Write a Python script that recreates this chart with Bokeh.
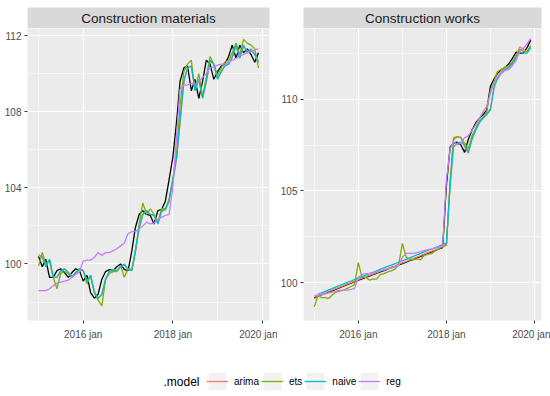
import numpy as np
import pandas as pd
from bokeh.plotting import figure
from bokeh.layouts import column, row
from bokeh.models import Range1d, FixedTicker, Label, Legend, LegendItem
from bokeh.embed import file_html
from bokeh.resources import INLINE

months = pd.date_range("2015-01-01", periods=60, freq="MS")
models = ["arima", "ets", "naive", "reg"]
model_colors = ["#F8766D", "#7CAE00", "#00BFC4", "#C77CFF"]
panel_titles = ["Construction materials", "Construction works"]

x_tick_dates = ["2016-01-01", "2018-01-01", "2020-01-01"]
x_tick_labels = ["2016 jan", "2018 jan", "2020 jan"]
x_minor_dates = ["2015-01-01", "2017-01-01", "2019-01-01"]

mat_y_ticks = [100, 104, 108, 112]
mat_y_minor = [98, 102, 106, 110]
works_y_ticks = [100, 105, 110]
works_y_minor = [102.5, 107.5, 112.5]

# ---------------- Construction materials ----------------
mat_actual = [100.4, 99.85, 100.25, 99.3, 99.3, 99.65, 99.75, 99.55, 99.3, 99.55, 99.75, 99.65,
              99.1, 99.4, 98.5, 98.2, 98.4, 99.2, 99.6, 99.7, 99.65, 99.85, 100.0, 99.7,
              99.65, 100.7, 101.9, 102.6, 102.8, 102.6, 102.55, 102.1, 102.8, 102.85, 103.3, 104.4,
              105.6, 107.5, 109.6, 110.3, 110.4, 109.1, 109.7, 108.7, 109.6, 110.7, 110.5, 109.7,
              110.1, 110.4, 110.5, 110.9, 111.5, 110.8, 111.5, 111.1, 111.3, 111.0, 110.6, 111.1]
mat_arima = [100.5, 100.35, 99.9, 100.2, 99.35, 99.3, 99.6, 99.75, 99.55, 99.35, 99.55, 99.75,
             99.65, 99.15, 99.35, 98.55, 98.2, 98.4, 99.15, 99.6, 99.7, 99.65, 99.85, 99.95,
             99.7, 99.7, 100.65, 101.85, 102.6, 102.8, 102.6, 102.55, 102.15, 102.75, 102.85, 103.3,
             104.35, 105.55, 107.45, 109.55, 110.3, 110.4, 109.15, 109.65, 108.75, 109.55, 110.65, 110.5,
             109.75, 110.1, 110.4, 110.5, 110.85, 111.45, 110.85, 111.45, 111.15, 111.25, 111.0, 110.65]
mat_ets = [99.9, 100.6, 100.0, 100.2, 99.3, 98.7, 99.5, 99.6, 99.5, 99.3, 99.5, 99.7,
           99.65, 98.95, 99.4, 98.5, 98.1, 97.8, 99.2, 99.5, 99.6, 99.6, 99.9, 99.3,
           99.75, 99.7, 100.6, 102.1, 103.2, 102.6, 102.9, 102.6, 102.2, 102.9, 102.9, 103.4,
           104.5, 105.8, 108.3, 110.1, 110.5, 110.7, 109.1, 110.0, 108.8, 109.8, 110.9, 110.5,
           109.9, 110.3, 110.6, 110.7, 111.1, 111.6, 111.0, 111.8, 111.6, 111.5, 111.3, 110.3]
mat_naive = [None, 100.4, 99.85, 100.25, 99.3, 99.3, 99.65, 99.75, 99.55, 99.3, 99.55, 99.75,
             99.65, 99.1, 99.4, 98.5, 98.2, 98.4, 99.2, 99.6, 99.7, 99.65, 99.85, 100.0,
             99.7, 99.65, 100.7, 101.9, 102.6, 102.8, 102.6, 102.55, 102.1, 102.8, 102.85, 103.3,
             104.4, 105.6, 107.5, 109.6, 110.3, 110.4, 109.1, 109.7, 108.7, 109.6, 110.7, 110.5,
             109.7, 110.1, 110.4, 110.5, 110.9, 111.5, 110.8, 111.5, 111.1, 111.3, 111.0, 110.6]
mat_reg = [98.6, 98.6, 98.6, 98.7, 98.85, 99.0, 99.05, 99.1, 99.15, 99.3, 99.45, 99.6,
           100.15, 100.2, 100.2, 100.35, 100.6, 100.45, 100.6, 100.6, 100.7, 100.8, 100.95, 101.1,
           101.6, 101.7, 101.7, 101.85, 102.0, 102.2, 102.1, 102.15, 102.35, 102.45, 102.55, 102.6,
           104.0, 106.8, 109.2, 109.4, 109.4, 109.5, 109.45, 109.6, 109.8, 110.0, 110.3, 110.35,
           110.45, 110.5, 110.5, 110.6, 110.7, 110.8, 110.95, 111.0, 111.1, 111.15, 111.25, 111.3]

# ---------------- Construction works ----------------
works_actual = [99.2, 99.27, 99.35, 99.43, 99.5, 99.58, 99.66, 99.74, 99.82, 99.9, 99.98, 100.06,
                100.15, 100.22, 100.29, 100.37, 100.44, 100.52, 100.6, 100.67, 100.74, 100.82, 100.9, 100.98,
                101.05, 101.13, 101.21, 101.28, 101.36, 101.44, 101.52, 101.6, 101.68, 101.76, 101.84, 101.92,
                105.3, 107.4, 107.6, 107.65, 107.5, 107.1, 107.8, 108.3, 108.7, 108.95, 109.15, 109.4,
                110.7, 111.1, 111.4, 111.6, 111.7, 111.9, 112.2, 112.55, 112.5, 112.5, 112.8, 113.2]
works_arima = [99.1, 99.3, 99.37, 99.45, 99.53, 99.61, 99.69, 99.77, 99.85, 99.93, 100.01, 100.09,
               100.17, 100.25, 100.32, 100.4, 100.47, 100.55, 100.63, 100.7, 100.78, 100.85, 100.93, 101.01,
               101.09, 101.16, 101.24, 101.32, 101.4, 101.48, 101.56, 101.64, 101.72, 101.8, 101.88, 101.96,
               102.04, 105.5, 107.9, 107.95, 107.9, 107.4, 107.05, 107.9, 108.35, 108.75, 109.0, 109.2,
               109.5, 110.6, 111.2, 111.5, 111.7, 111.75, 111.95, 112.25, 112.85, 112.7, 112.55, 112.9]
works_ets = [98.7, 99.3, 99.2, 99.2, 99.15, 99.35, 99.5, 99.55, 99.6, 99.7, 99.8, 99.9,
             101.1, 100.3, 100.3, 100.15, 100.2, 100.2, 100.45, 100.5, 100.6, 100.65, 100.75, 101.0,
             102.15, 101.4, 101.3, 101.25, 101.3, 101.25, 101.5, 101.55, 101.6, 101.75, 101.85, 102.0,
             102.1, 105.5, 107.8, 107.95, 107.9, 107.6, 107.3, 108.0, 108.4, 108.8, 109.0, 109.3,
             110.5, 111.0, 111.5, 111.6, 111.75, 111.8, 112.0, 112.4, 112.7, 112.6, 112.6, 112.9]
works_naive = [None, 99.38, 99.46, 99.54, 99.62, 99.7, 99.78, 99.86, 99.94, 100.02, 100.1, 100.18,
               100.26, 100.34, 100.42, 100.5, 100.57, 100.65, 100.73, 100.81, 100.89, 100.96, 101.04, 101.12,
               101.2, 101.28, 101.36, 101.44, 101.52, 101.6, 101.68, 101.76, 101.84, 101.92, 102.0, 102.08,
               102.16, 105.3, 107.4, 107.6, 107.65, 107.5, 107.1, 107.8, 108.3, 108.7, 108.95, 109.15,
               109.4, 110.7, 111.1, 111.4, 111.6, 111.7, 111.9, 112.2, 112.55, 112.5, 112.5, 112.8]
works_reg = [99.3, 99.35, 99.35, 99.4, 99.45, 99.5, 99.55, 99.6, 99.6, 99.6, 99.65, 99.7,
             100.3, 100.45, 100.5, 100.5, 100.55, 100.6, 100.65, 100.7, 100.75, 100.8, 100.9, 100.95,
             101.4, 101.6, 101.6, 101.6, 101.65, 101.7, 101.75, 101.8, 101.85, 101.9, 101.95, 102.0,
             105.6, 107.3, 107.7, 107.5, 107.6, 107.9, 108.0, 108.3, 108.6, 108.95, 109.3, 109.6,
             110.3, 110.9, 111.2, 111.4, 111.55, 111.6, 111.8, 112.1, 112.6, 112.75, 113.0, 113.3]


def to_ms(d):
    return float(pd.Timestamp(d).value // 10**6)


x_ms = np.array([to_ms(m) for m in months])
tick_ms = [to_ms(d) for d in x_tick_dates]
minor_ms = [to_ms(d) for d in x_minor_dates]
span = x_ms[-1] - x_ms[0]
x_start = x_ms[0] - 0.05 * span
x_end = x_ms[-1] + 0.05 * span

FONT = "Liberation Sans"
STRIP_H = 21
STRIP_TOP = 7


def make_panel(title, actual, fits, y_lo, y_hi, y_ticks, y_minor, width, bl, br):
    # strip (facet label) as its own small figure, aligned with the panel frame
    s = figure(width=width, height=STRIP_H + STRIP_TOP, x_range=Range1d(x_start, x_end),
               y_range=Range1d(0, 1), output_backend="svg", toolbar_location=None,
               min_border_left=bl, min_border_right=br, min_border_top=STRIP_TOP,
               min_border_bottom=0, x_axis_location=None, y_axis_location=None)
    s.background_fill_color = "#D9D9D9"
    s.border_fill_color = "white"
    s.outline_line_color = None
    s.grid.visible = False
    s.add_layout(Label(x=(x_start + x_end) / 2, y=0.5, text=title,
                       text_align="center", text_baseline="middle", text_font=FONT,
                       text_font_size="13.5px", text_color="#1A1A1A"))

    p = figure(width=width, height=314, x_range=Range1d(x_start, x_end),
               y_range=Range1d(y_lo, y_hi), output_backend="svg", toolbar_location=None,
               min_border_left=bl, min_border_right=br, min_border_top=0,
               min_border_bottom=20)
    p.background_fill_color = "#EBEBEB"
    p.border_fill_color = "white"
    p.outline_line_color = None

    xt = FixedTicker(ticks=tick_ms, minor_ticks=minor_ms)
    yt = FixedTicker(ticks=y_ticks, minor_ticks=y_minor)
    p.xaxis.ticker = xt
    p.xgrid.ticker = xt
    p.yaxis.ticker = yt
    p.ygrid.ticker = yt
    p.xaxis.major_label_overrides = dict(zip(tick_ms, x_tick_labels))
    for g in (p.xgrid, p.ygrid):
        g.grid_line_color = "white"
        g.grid_line_width = 1.1
        g.minor_grid_line_color = "white"
        g.minor_grid_line_width = 0.5
    for ax in (p.xaxis, p.yaxis):
        ax.axis_line_color = None
        ax.major_tick_line_color = "#333333"
        ax.major_tick_in = 0
        ax.major_tick_out = 3
        ax.minor_tick_line_color = None
        ax.major_label_text_font = FONT
        ax.major_label_text_font_size = "10px"
        ax.major_label_text_color = "#4D4D4D"
    p.xaxis.major_label_standoff = 4
    p.yaxis.major_label_standoff = 2

    p.line(x_ms, np.array(actual, dtype=float), line_color="black", line_width=1.3)
    for vals, col in zip(fits, model_colors):
        p.line(x_ms, np.array(vals, dtype=float), line_color=col, line_width=1.3)
    return column(s, p)


c1 = make_panel(panel_titles[0], mat_actual, [mat_arima, mat_ets, mat_naive, mat_reg],
                97.03, 112.37, mat_y_ticks, mat_y_minor, 277, 27, 8)
c2 = make_panel(panel_titles[1], works_actual, [works_arima, works_ets, works_naive, works_reg],
                97.95, 113.84, works_y_ticks, works_y_minor, 273, 21, 9)

LEG_H = 52
pleg = figure(width=550, height=LEG_H, x_range=Range1d(0, 550), y_range=Range1d(0, LEG_H),
              output_backend="svg", toolbar_location=None, min_border=0,
              x_axis_location=None, y_axis_location=None)
pleg.grid.visible = False
pleg.outline_line_color = None
pleg.background_fill_color = "white"
pleg.border_fill_color = "white"

items = []
for name, col in zip(models, model_colors):
    sq = pleg.quad(left=[-20], right=[-10], top=[-10], bottom=[-20],
                   fill_color="#F2F2F2", line_color=None)
    ln = pleg.line(x=[-20, -10], y=[-15, -15], line_color=col, line_width=1.3)
    items.append(LegendItem(label=name, renderers=[sq, ln]))

legend = Legend(items=items, orientation="horizontal", location=(206, 2),
                glyph_width=22, glyph_height=22, label_standoff=6, spacing=2,
                padding=0, margin=0, label_width=0, border_line_color=None,
                background_fill_alpha=0, label_text_font=FONT,
                label_text_font_size="10px", label_text_color="black",
                label_text_baseline="middle")
pleg.add_layout(legend)
pleg.add_layout(Label(x=163, y=13, text=".model", text_font=FONT, text_font_size="12px",
                      text_baseline="middle", text_color="black"))

layout = column(row(c1, c2), pleg)
open("out.html", "w").write(file_html(layout, INLINE))
